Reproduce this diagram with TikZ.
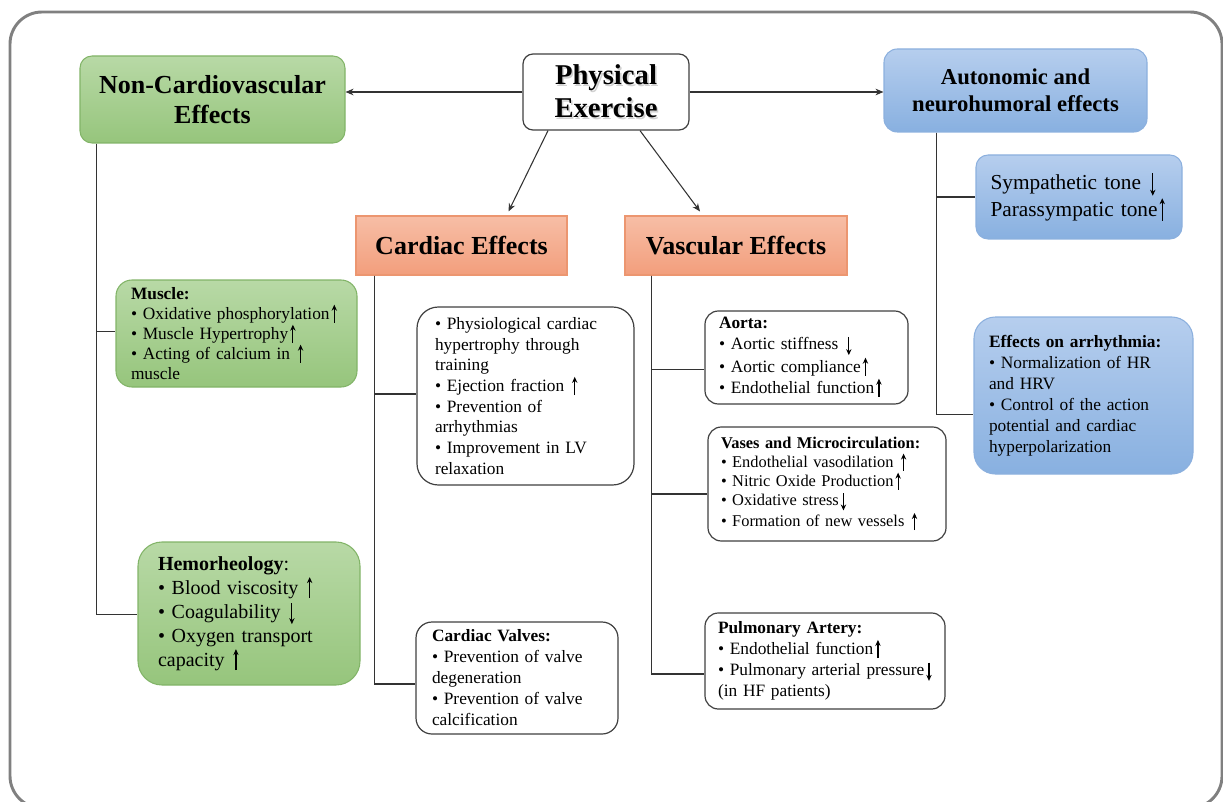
\documentclass[tikz,border=0pt]{standalone}
\usepackage{fontspec}
\setmainfont{Liberation Serif}
\usetikzlibrary{arrows.meta,calc}

\definecolor{gtop}{RGB}{184,217,166}
\definecolor{gbot}{RGB}{150,197,124}
\definecolor{gline}{RGB}{130,180,104}
\definecolor{btop}{RGB}{182,206,238}
\definecolor{bbot}{RGB}{136,176,224}
\definecolor{bline}{RGB}{140,176,222}
\definecolor{otop}{RGB}{247,190,166}
\definecolor{obot}{RGB}{242,158,124}
\definecolor{oline}{RGB}{236,150,112}
\definecolor{framegray}{RGB}{128,128,128}

% small up / down arrows after the items
\newcommand{\arrup}{\hspace{1.5pt}\tikz[baseline=0pt]\draw[black,line width=0.9pt,-{Stealth[length=4.5pt,width=4pt]}] (0pt,-0.2em) -- (0pt,0.85em);}
\newcommand{\arrdn}{\hspace{1.5pt}\tikz[baseline=0pt]\draw[black,line width=0.9pt,-{Stealth[length=4.5pt,width=4pt]}] (0pt,0.75em) -- (0pt,-0.3em);}
\newcommand{\shtext}[1]{\makebox[0pt][l]{\hspace{1.2pt}\raisebox{-1.2pt}{\textcolor{black!18}{#1}}}#1}

\begin{document}
\begin{tikzpicture}[x=0.75pt,y=-0.75pt,
	conn/.style={draw=black!80,line width=0.8pt},
	tip/.style={-{Stealth[length=6pt,width=5pt]}},
	greenbox/.style={draw=gline,top color=gtop,bottom color=gbot,line width=0.8pt},
	bluebox/.style={draw=bline,top color=btop,bottom color=bbot,line width=0.8pt},
	orangebox/.style={draw=oline,top color=otop,bottom color=obot,line width=0.8pt},
	whitebox/.style={draw=black!75,fill=white,line width=0.9pt},
	bodytext/.style={align=left,inner ysep=0pt,font=\fontsize{13}{15.75}\selectfont}]
	\useasboundingbox (0,0) rectangle (1223,802);
	
	% outer frame
	\draw[framegray,line width=2.2pt,rounded corners=24pt] (10,12) rectangle (1222,808);
	
	% top row
	\node[whitebox,rounded corners=7.5pt,minimum width=124.5pt,minimum height=57pt,align=center,font=\fontsize{21.5}{24.75}\selectfont\bfseries] (phys) at (606,92) {\shtext{Physical}\\\shtext{Exercise}};
	\node[greenbox,rounded corners=9pt,minimum width=198.75pt,minimum height=65.25pt,align=center,font=\fontsize{19.5}{22.5}\selectfont\bfseries] (noncv) at (212.5,99.5) {Non-Cardiovascular\\Effects};
	\node[bluebox,rounded corners=10pt,minimum width=197.25pt,minimum height=62.25pt,align=center,font=\fontsize{17}{20}\selectfont\bfseries] (auton) at (1015.5,90.5) {Autonomic and\\neurohumoral effects};
	
	% second row
	\node[orangebox,minimum width=158.25pt,minimum height=44.25pt,font=\fontsize{19.5}{22.5}\selectfont\bfseries] (cardeff) at (461.5,245.5) {Cardiac Effects};
	\node[orangebox,minimum width=166.5pt,minimum height=44.25pt,font=\fontsize{19.5}{22.5}\selectfont\bfseries] (vaseff) at (736,245.5) {Vascular Effects};
	
	% non-cardiovascular
	\node[greenbox,bodytext,rounded corners=12pt,text width=158.25pt,inner xsep=11.25pt,minimum height=80.25pt,font=\fontsize{13}{15}\selectfont] (muscle) at (236.5,333.5) {\textbf{Muscle:}\\ \textbullet\ Oxidative phosphorylation\arrup\\ \textbullet\ Muscle Hypertrophy\arrup\\ \textbullet\ Acting of calcium in \arrup\\ muscle};
	\node[greenbox,bodytext,rounded corners=18pt,text width=136.5pt,inner xsep=15pt,minimum height=107.25pt,font=\fontsize{15}{18}\selectfont] (hemo) at (249,613.5) {\textbf{Hemorheology}:\\ \textbullet\ Blood viscosity~\arrup\\ \textbullet\ Coagulability~\arrdn\\ \textbullet\ Oxygen transport\\ capacity~\arrup};
	
	% cardiac
	\node[whitebox,bodytext,rounded corners=16pt,text width=135.75pt,inner xsep=13.5pt,minimum height=133.5pt,font=\fontsize{13}{15.5}\selectfont] (cardbody) at (525.5,396) {\textbullet\ Physiological cardiac\\ hypertrophy through\\ training\\ \textbullet\ Ejection fraction~\arrup\\ \textbullet\ Prevention of\\ arrhythmias\\ \textbullet\ Improvement in LV\\ relaxation};
	\node[whitebox,bodytext,rounded corners=12pt,text width=127.5pt,inner xsep=12pt,minimum height=84pt] (valves) at (517,678) {\textbf{Cardiac Valves:}\\ \textbullet\ Prevention of valve\\ degeneration\\ \textbullet\ Prevention of valve\\ calcification};
	
	% vascular
	\node[whitebox,bodytext,rounded corners=10pt,text width=131.25pt,inner xsep=10.5pt,minimum height=69.75pt] (aorta) at (806.5,357.5) {\textbf{Aorta:}\\ \textbullet\ Aortic stiffness~\arrdn\\ \textbullet\ Aortic compliance\arrup\\ \textbullet\ Endothelial function\arrup};
	\node[whitebox,bodytext,rounded corners=10pt,text width=159pt,inner xsep=9.75pt,minimum height=85.5pt,font=\fontsize{12.3}{14.25}\selectfont] (vases) at (827,484) {\textbf{Vases and Microcirculation:}\\ \textbullet\ Endothelial vasodilation~\arrup\\ \textbullet\ Nitric Oxide Production\arrup\\ \textbullet\ Oxidative stress\arrdn\\ \textbullet\ Formation of new vessels~\arrup};
	\node[whitebox,bodytext,rounded corners=10pt,text width=160.5pt,inner xsep=9.75pt,minimum height=72pt] (pulm) at (825,661) {\textbf{Pulmonary Artery:}\\ \textbullet\ Endothelial function\arrup\\ \textbullet\ Pulmonary arterial pressure\arrdn\\ (in HF patients)};
	
	% autonomic
	\node[bluebox,bodytext,rounded corners=9pt,text width=132.75pt,inner xsep=10.875pt,minimum height=63pt,font=\fontsize{16}{18}\selectfont] (symp) at (1079,197) {Sympathetic tone~\arrdn\\ Parassympatic tone\arrup};
	\node[bluebox,bodytext,rounded corners=16pt,text width=141.75pt,inner xsep=11.25pt,minimum height=117.75pt] (arrh) at (1083.5,395.5) {\textbf{Effects on arrhythmia:}\\ \textbullet\ Normalization of HR\\ and HRV\\ \textbullet\ Control of the action\\ potential and cardiac\\ hyperpolarization};
	
	% arrows from the centre box
	\draw[conn,tip] (phys.west) -- (phys.west -| noncv.east);
	\draw[conn,tip] (phys.east) -- (phys.east -| auton.west);
	\draw[conn,tip] ($(phys.south)+(-58,0)$) -- ($(cardeff.north)+(47,-4)$);
	\draw[conn,tip] ($(phys.south)+(34,0)$) -- ($(vaseff.north)+(-36,-4)$);
	
	% tree lines
	\draw[conn] ($(noncv.south west)+(17,0)$) |- ($(muscle.west)+(0,-2)$);
	\draw[conn] ($(noncv.south west)+(17,0)$) |- ($(hemo.west)+(0,1)$);
	\draw[conn] ($(cardeff.south west)+(19,0)$) |- ($(cardbody.west)+(0,-2)$);
	\draw[conn] ($(cardeff.south west)+(19,0)$) |- ($(valves.west)+(0,6)$);
	\draw[conn] ($(vaseff.south west)+(27,0)$) |- ($(aorta.west)+(0,12)$);
	\draw[conn] ($(vaseff.south west)+(27,0)$) |- ($(vases.west)+(0,10)$);
	\draw[conn] ($(vaseff.south west)+(27,0)$) |- ($(pulm.west)+(0,13)$);
	\draw[conn] ($(auton.south west)+(53,0)$) |- (symp.west);
	\draw[conn] ($(auton.south west)+(53,0)$) |- ($(arrh.west)+(0,19)$);
	
\end{tikzpicture}
\end{document}
